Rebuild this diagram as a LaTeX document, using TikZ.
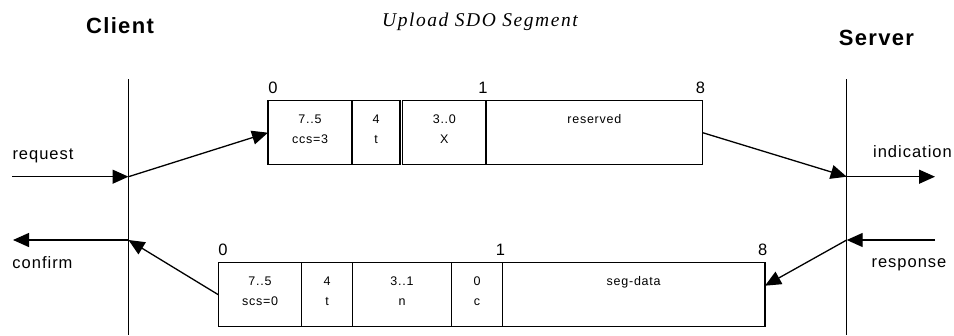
\documentclass[tikz,border=0pt]{standalone}
\usepackage{fontspec}
\setmainfont{Liberation Sans}
\newfontfamily\headfont[LetterSpace=6]{Liberation Sans}
\newfontfamily\titlefont[LetterSpace=8]{Liberation Serif}
\usetikzlibrary{arrows.meta}

\begin{document}
\begin{tikzpicture}[x=1pt,y=-1pt,
  cell/.style={draw, line width=1.4pt, inner sep=0pt, outer sep=0pt,
    minimum height=64pt, anchor=north west},
  celltxt/.style={font=\headfont\fontsize{12.5}{14}\selectfont, inner sep=0pt, anchor=base},
  bytelbl/.style={font=\headfont\fontsize{16.5}{19}\selectfont, inner sep=0pt, anchor=base},
  party/.style={font=\headfont\bfseries\fontsize{22}{26}\selectfont, inner sep=0pt, anchor=base},
  primlbl/.style={font=\headfont\fontsize{16.5}{19}\selectfont, inner sep=0pt, anchor=base},
  life/.style={line width=1.2pt},
  msg/.style={line width=1.3pt, -{Triangle[length=16pt,width=14pt]}}
]
\useasboundingbox (0,0) rectangle (954,335);

% headings
\node[party] (client) at (120,33.3) {Client};
\node[party] (server) at (876.5,45.7) {Server};
\node[font=\titlefont\itshape\fontsize{19.5}{23}\selectfont, inner sep=0pt, anchor=base]
  (title) at (480,26.7) {Upload SDO Segment};

% lifelines
\coordinate (cTop) at (128.5,79);
\coordinate (cBot) at (128.5,335);
\coordinate (sTop) at (846.7,79);
\coordinate (sBot) at (846.7,335);
\draw[life] (cTop) -- (cBot);
\draw[life] (sTop) -- (sBot);

% request frame (client -> server)
\node[cell, minimum width=84pt]   (c1) at (268,100.7) {};
\node[cell, minimum width=48pt]   (c2) at (352,100.7) {};
\node[cell, minimum width=83.3pt] (c3) at (402.7,100.7) {};
\node[cell, minimum width=216.7pt](c4) at (486,100.7) {};

\node[celltxt] (c1a) at ([yshift=-22.6pt]c1.north) {7..5};
\node[celltxt] (c1b) at ([yshift=-42.6pt]c1.north) {ccs=3};
\node[celltxt] (c2a) at ([yshift=-22.6pt]c2.north) {4};
\node[celltxt] (c2b) at ([yshift=-42.6pt]c2.north) {t};
\node[celltxt] (c3a) at ([yshift=-22.6pt]c3.north) {3..0};
\node[celltxt] (c3b) at ([yshift=-42.6pt]c3.north) {X};
\node[celltxt] (c4a) at ([yshift=-22.6pt]c4.north) {reserved};

\node[bytelbl] (b0) at (273,93.3) {0};
\node[bytelbl] (b1) at (483,93.3) {1};
\node[bytelbl] (b8) at (700.5,93.3) {8};

% response frame (server -> client)
\node[cell, minimum width=83.4pt]  (d1) at (218.3,262.7) {};
\node[cell, minimum width=50.6pt]  (d2) at (301.7,262.7) {};
\node[cell, minimum width=99.4pt]  (d3) at (352.3,262.7) {};
\node[cell, minimum width=50.6pt]  (d4) at (451.7,262.7) {};
\node[cell, minimum width=262.7pt] (d5) at (502.3,262.7) {};

\node[celltxt] (d1a) at ([yshift=-22.3pt]d1.north) {7..5};
\node[celltxt] (d1b) at ([yshift=-42.3pt]d1.north) {scs=0};
\node[celltxt] (d2a) at ([yshift=-22.3pt]d2.north) {4};
\node[celltxt] (d2b) at ([yshift=-42.3pt]d2.north) {t};
\node[celltxt] (d3a) at ([yshift=-22.3pt]d3.north) {3..1};
\node[celltxt] (d3b) at ([yshift=-42.3pt]d3.north) {n};
\node[celltxt] (d4a) at ([yshift=-22.3pt]d4.north) {0};
\node[celltxt] (d4b) at ([yshift=-42.3pt]d4.north) {c};
\node[celltxt] (d5a) at ([yshift=-22.3pt]d5.north) {seg-data};

\node[bytelbl] (e0) at (223,255) {0};
\node[bytelbl] (e1) at (500.5,255) {1};
\node[bytelbl] (e8) at (762.7,255) {8};

% service primitives
\node[primlbl] (req)  at (43,159)    {request};
\node[primlbl] (ind)  at (912.5,157) {indication};
\node[primlbl] (conf) at (42.5,268)  {confirm};
\node[primlbl] (resp) at (909,267)   {response};

\coordinate (reqL)  at (12,176.7);
\coordinate (cReq)  at (128.5,176.7);
\coordinate (sInd)  at (846.7,176.7);
\coordinate (indR)  at (935,176.7);
\coordinate (respR) at (935,240);
\coordinate (sResp) at (846.7,240);
\coordinate (cConf) at (128.5,240);
\coordinate (confL) at (13,240);

\draw[msg] (reqL) -- (cReq);
\draw[msg] (cReq) -- (c1.west);
\draw[msg] (c4.east) -- (sInd);
\draw[msg] (sInd) -- (indR);
\draw[msg] (respR) -- (sResp);
\draw[msg] (sResp) -- ([yshift=9pt]d5.east);
\draw[msg] (d1.west) -- (cConf);
\draw[msg] (cConf) -- (confL);
\end{tikzpicture}
\end{document}
